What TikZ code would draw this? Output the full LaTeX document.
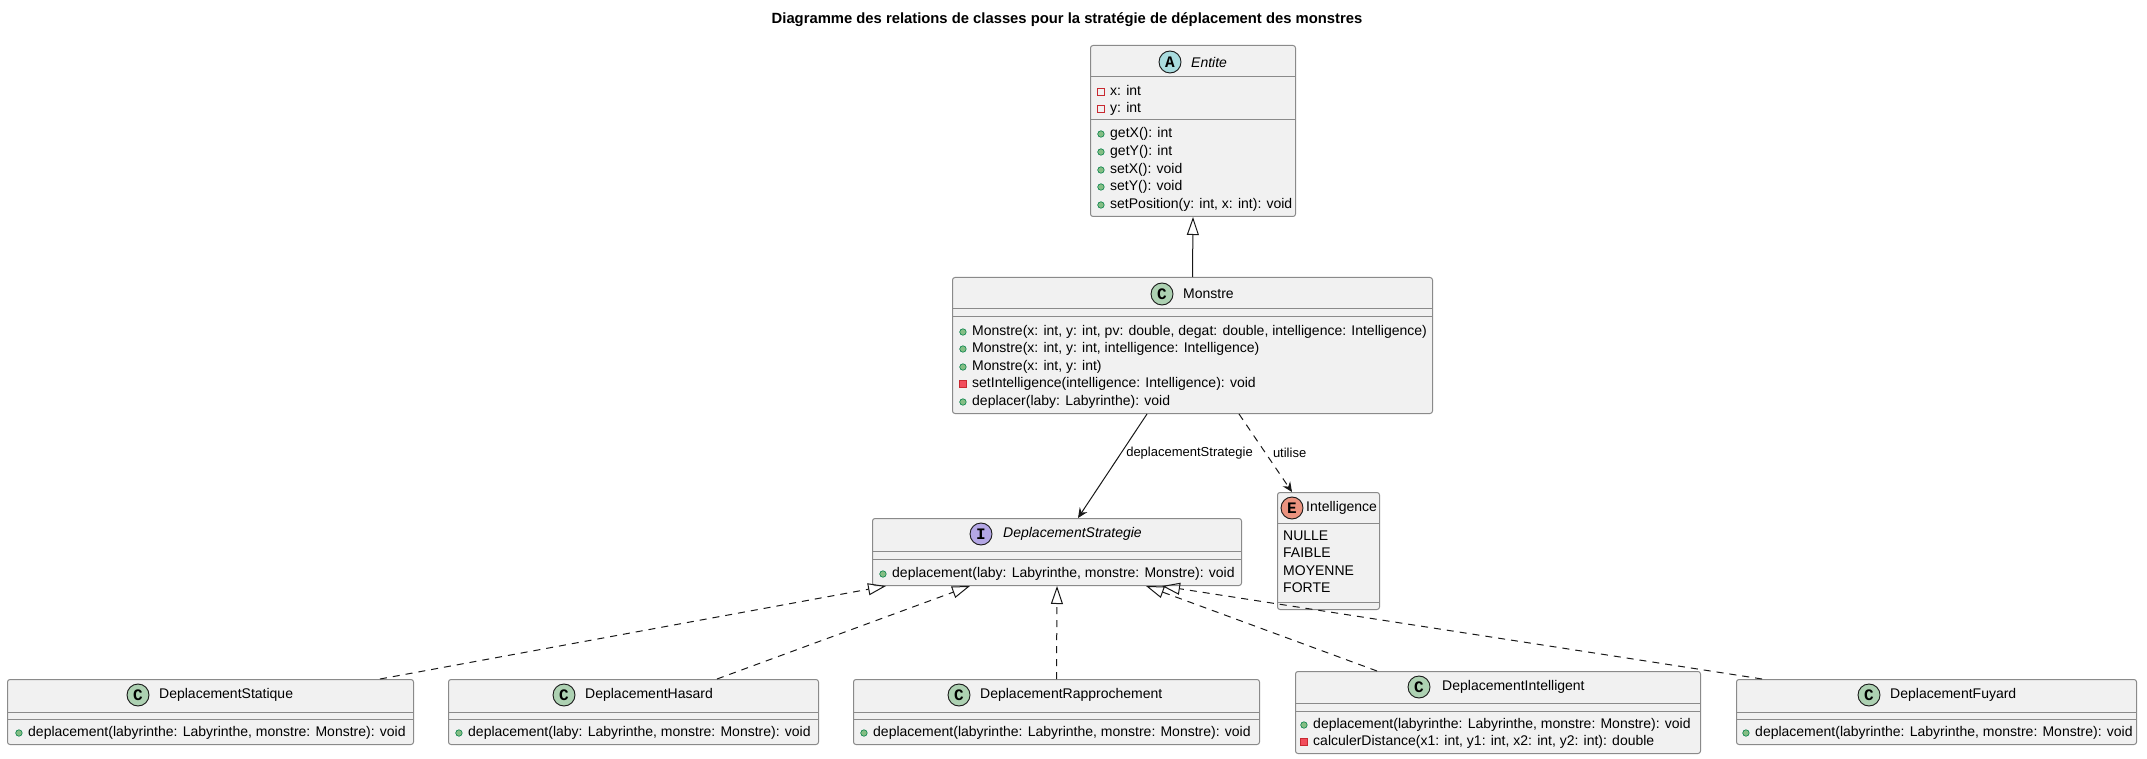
\documentclass[tikz,border=0pt]{standalone}
\usepackage{fontspec}
\setmainfont{Liberation Sans}
\newfontfamily\badgefont{Liberation Mono}
\usetikzlibrary{arrows.meta}

\definecolor{umlfill}{HTML}{F1F1F1}
\definecolor{umlborder}{HTML}{8A8A8A}
\definecolor{umldark}{HTML}{181818}
\definecolor{abstractbg}{HTML}{A9DCDF}
\definecolor{classbg}{HTML}{ADD1B2}
\definecolor{interfacebg}{HTML}{B4A7E5}
\definecolor{enumbg}{HTML}{EB937F}
\definecolor{pubfill}{HTML}{84BE84}
\definecolor{pubdraw}{HTML}{038048}
\definecolor{privfill}{HTML}{F24D5C}
\definecolor{privdraw}{HTML}{C82930}

\tikzset{
  classbox/.style={draw=umlborder, fill=umlfill, line width=1pt, rounded corners=2.5pt, inner sep=0pt, anchor=north west},
  sepline/.style={draw=umlborder, line width=1pt},
  badge/.style={circle, draw=umldark, line width=0.9pt, minimum size=22pt, inner sep=0pt, font=\badgefont\bfseries\fontsize{16}{16}\selectfont},
  cname/.style={anchor=west, inner sep=0pt, font=\fontsize{14}{16}\selectfont},
  aname/.style={cname, font=\itshape\fontsize{14}{16}\selectfont},
  mbr/.style={anchor=west, inner sep=0pt, text height=10pt, text depth=3pt, font=\fontsize{14}{16}\selectfont},
  pubdot/.style={circle, draw=pubdraw, fill=pubfill, line width=0.6pt, minimum size=6.5pt, inner sep=0pt},
  privsq/.style={rectangle, draw=privdraw, fill=privfill, line width=0.6pt, minimum size=6.5pt, inner sep=0pt},
  privopen/.style={rectangle, draw=privdraw, line width=0.8pt, minimum size=6.5pt, inner sep=0pt},
  pub/.style={mbr, label={[pubdot, label distance=5.5pt]left:{}}},
  priv/.style={mbr, label={[privsq, label distance=5.5pt]left:{}}},
  privf/.style={mbr, label={[privopen, label distance=5.5pt]left:{}}},
  lbl/.style={anchor=west, inner sep=0pt, font=\fontsize{13}{15}\selectfont},
  assoc/.style={draw=umldark, line width=1pt, -{Stealth[length=10pt, width=9pt, inset=3.5pt]}},
  uses/.style={assoc, dash pattern=on 7pt off 6pt},
  extends/.style={draw=umldark, line width=1pt, -{Triangle[open, length=18pt, width=12pt]}},
  realizes/.style={extends, dash pattern=on 7pt off 6pt}
}

\begin{document}
\begin{tikzpicture}[x=1pt, y=-1pt]
\useasboundingbox (0,0) rectangle (2147,759);

\node[inner sep=0pt, font=\bfseries\fontsize{14.8}{17}\selectfont] (title) at (1067,20)
  {Diagramme des relations de classes pour la stratégie de déplacement des monstres};

% Entite
\node[classbox, minimum width=205pt, minimum height=171pt] (entite) at (1090,45) {};
\draw[sepline] ([yshift=-32pt]entite.north west) -- ([yshift=-32pt]entite.north east);
\draw[sepline] ([yshift=-75pt]entite.north west) -- ([yshift=-75pt]entite.north east);
\node[badge, fill=abstractbg] (entite-badge) at (1170,62) {A};
\node[aname] (entite-name) at (1191,62) {Entite};
\node[privf] (entite-f1) at (1110,92) {x: int};
\node[privf] (entite-f2) at (1110,109) {y: int};
\node[pub] (entite-m1) at (1110,134) {getX(): int};
\node[pub] (entite-m2) at (1110,152) {getY(): int};
\node[pub] (entite-m3) at (1110,170) {setX(): void};
\node[pub] (entite-m4) at (1110,187) {setY(): void};
\node[pub] (entite-m5) at (1110,205) {setPosition(y: int, x: int): void};

% Monstre
\node[classbox, minimum width=480pt, minimum height=136pt] (monstre) at (952,277) {};
\draw[sepline] ([yshift=-32pt]monstre.north west) -- ([yshift=-32pt]monstre.north east);
\draw[sepline] ([yshift=-40pt]monstre.north west) -- ([yshift=-40pt]monstre.north east);
\node[badge, fill=classbg] (monstre-badge) at (1162,294) {C};
\node[cname] (monstre-name) at (1183,294) {Monstre};
\node[pub] (monstre-m1) at (972,332) {Monstre(x: int, y: int, pv: double, degat: double, intelligence: Intelligence)};
\node[pub] (monstre-m2) at (972,349) {Monstre(x: int, y: int, intelligence: Intelligence)};
\node[pub] (monstre-m3) at (972,367) {Monstre(x: int, y: int)};
\node[priv] (monstre-m4) at (972,384) {setIntelligence(intelligence: Intelligence): void};
\node[pub] (monstre-m5) at (972,402) {deplacer(laby: Labyrinthe): void};

% DeplacementStrategie
\node[classbox, minimum width=369pt, minimum height=67pt] (strategie) at (872,518) {};
\draw[sepline] ([yshift=-33pt]strategie.north west) -- ([yshift=-33pt]strategie.north east);
\draw[sepline] ([yshift=-41pt]strategie.north west) -- ([yshift=-41pt]strategie.north east);
\node[badge, fill=interfacebg] (strategie-badge) at (981,534) {I};
\node[aname] (strategie-name) at (1003,534) {DeplacementStrategie};
\node[pub] (strategie-m1) at (892,574) {deplacement(laby: Labyrinthe, monstre: Monstre): void};

% Intelligence
\node[classbox, minimum width=102pt, minimum height=117pt] (intelligence) at (1277,492) {};
\draw[sepline] ([yshift=-31pt]intelligence.north west) -- ([yshift=-31pt]intelligence.north east);
\draw[sepline] ([yshift=-110pt]intelligence.north west) -- ([yshift=-110pt]intelligence.north east);
\node[badge, fill=enumbg] (intelligence-badge) at (1292,508) {E};
\node[cname] (intelligence-name) at (1306,508) {Intelligence};
\node[mbr] (intelligence-v1) at (1283,537) {NULLE};
\node[mbr] (intelligence-v2) at (1283,554) {FAIBLE};
\node[mbr] (intelligence-v3) at (1283,572) {MOYENNE};
\node[mbr] (intelligence-v4) at (1283,589) {FORTE};

% DeplacementStatique
\node[classbox, minimum width=406pt, minimum height=65pt] (statique) at (7,679) {};
\draw[sepline] ([yshift=-33pt]statique.north west) -- ([yshift=-33pt]statique.north east);
\draw[sepline] ([yshift=-40pt]statique.north west) -- ([yshift=-40pt]statique.north east);
\node[badge, fill=classbg] (statique-badge) at (138,695) {C};
\node[cname] (statique-name) at (159,695) {DeplacementStatique};
\node[pub] (statique-m1) at (28,733) {deplacement(labyrinthe: Labyrinthe, monstre: Monstre): void};

% DeplacementHasard
\node[classbox, minimum width=370pt, minimum height=65pt] (hasard) at (448,679) {};
\draw[sepline] ([yshift=-33pt]hasard.north west) -- ([yshift=-33pt]hasard.north east);
\draw[sepline] ([yshift=-40pt]hasard.north west) -- ([yshift=-40pt]hasard.north east);
\node[badge, fill=classbg] (hasard-badge) at (564,695) {C};
\node[cname] (hasard-name) at (585,695) {DeplacementHasard};
\node[pub] (hasard-m1) at (468,733) {deplacement(laby: Labyrinthe, monstre: Monstre): void};

% DeplacementRapprochement
\node[classbox, minimum width=406pt, minimum height=65pt] (rapprochement) at (853,679) {};
\draw[sepline] ([yshift=-33pt]rapprochement.north west) -- ([yshift=-33pt]rapprochement.north east);
\draw[sepline] ([yshift=-40pt]rapprochement.north west) -- ([yshift=-40pt]rapprochement.north east);
\node[badge, fill=classbg] (rapprochement-badge) at (959,695) {C};
\node[cname] (rapprochement-name) at (980,695) {DeplacementRapprochement};
\node[pub] (rapprochement-m1) at (873,733) {deplacement(labyrinthe: Labyrinthe, monstre: Monstre): void};

% DeplacementIntelligent
\node[classbox, minimum width=405pt, minimum height=82pt] (intelligent) at (1295,671) {};
\draw[sepline] ([yshift=-32pt]intelligent.north west) -- ([yshift=-32pt]intelligent.north east);
\draw[sepline] ([yshift=-40pt]intelligent.north west) -- ([yshift=-40pt]intelligent.north east);
\node[badge, fill=classbg] (intelligent-badge) at (1419,687) {C};
\node[cname] (intelligent-name) at (1442,687) {DeplacementIntelligent};
\node[pub] (intelligent-m1) at (1313,725) {deplacement(labyrinthe: Labyrinthe, monstre: Monstre): void};
\node[priv] (intelligent-m2) at (1313,742) {calculerDistance(x1: int, y1: int, x2: int, y2: int): double};

% DeplacementFuyard
\node[classbox, minimum width=400pt, minimum height=65pt] (fuyard) at (1736,679) {};
\draw[sepline] ([yshift=-33pt]fuyard.north west) -- ([yshift=-33pt]fuyard.north east);
\draw[sepline] ([yshift=-40pt]fuyard.north west) -- ([yshift=-40pt]fuyard.north east);
\node[badge, fill=classbg] (fuyard-badge) at (1869,695) {C};
\node[cname] (fuyard-name) at (1890,695) {DeplacementFuyard};
\node[pub] (fuyard-m1) at (1755,733) {deplacement(labyrinthe: Labyrinthe, monstre: Monstre): void};

% relations
\draw[extends] (monstre.north) -- (entite.south);
\draw[assoc] ([xshift=195pt]monstre.south west) -- node[lbl, pos=0.38, xshift=5pt] (strategie-lbl) {deplacementStrategie} ([xshift=206pt]strategie.north west);
\draw[uses] ([xshift=287pt]monstre.south west) -- node[lbl, pos=0.5, xshift=7pt] (utilise-lbl) {utilise} ([xshift=15pt]intelligence.north west);

\draw[realizes] ([xshift=373pt]statique.north west) -- ([xshift=14pt]strategie.south west);
\draw[realizes] ([xshift=269pt]hasard.north west) -- ([xshift=98pt]strategie.south west);
\draw[realizes] (rapprochement.north) -- (strategie.south);
\draw[realizes] ([xshift=82pt]intelligent.north west) -- ([xshift=274pt]strategie.south west);
\draw[realizes] ([xshift=26pt]fuyard.north west) -- ([xshift=290pt]strategie.south west);
\end{tikzpicture}
\end{document}
